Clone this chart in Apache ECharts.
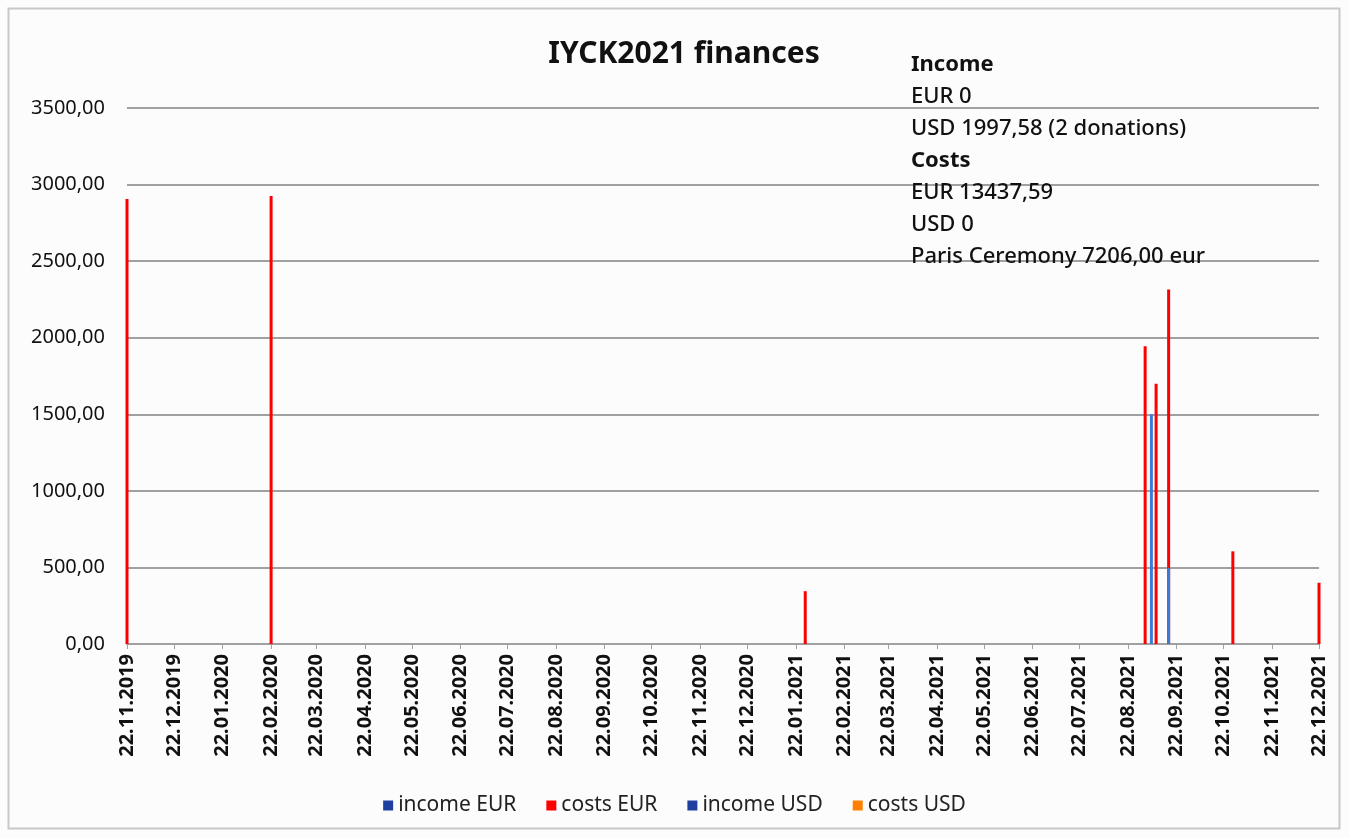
<!DOCTYPE html>
<html>
<head>
<meta charset="utf-8">
<title>IYCK2021 finances</title>
<script src="https://cdn.jsdelivr.net/npm/echarts@6/dist/echarts.min.js"></script>
<style>
  html, body { margin: 0; padding: 0; background: #ffffff; }
  #chart { width: 1349px; height: 838px; }
</style>
</head>
<body>
<div id="chart"></div>
<script>
// dates are dd.mm.yyyy, as on the axis
const tickLabels = [
  '22.11.2019', '22.12.2019', '22.01.2020', '22.02.2020', '22.03.2020',
  '22.04.2020', '22.05.2020', '22.06.2020', '22.07.2020', '22.08.2020',
  '22.09.2020', '22.10.2020', '22.11.2020', '22.12.2020', '22.01.2021',
  '22.02.2021', '22.03.2021', '22.04.2021', '22.05.2021', '22.06.2021',
  '22.07.2021', '22.08.2021', '22.09.2021', '22.10.2021', '22.11.2021',
  '22.12.2021'
]

const incomeEurDates = []
const incomeEurValues = []

const costsEurDates = ['22.11.2019', '22.02.2020', '28.01.2021', '02.09.2021', '09.09.2021', '17.09.2021', '28.10.2021', '22.12.2021']
const costsEurValues = [2905, 2925, 345, 1945, 1700, 2315, 605, 400]

const incomeUsdDates = ['06.09.2021', '17.09.2021']
const incomeUsdValues = [1500, 497.58]

const costsUsdDates = []
const costsUsdValues = []

// x axis works in days since the first tick
const DAY = 86400000
const toTime = (s) => {
  const [d, m, y] = s.split('.').map(Number)
  return Date.UTC(y, m - 1, d)
}
const t0 = toTime(tickLabels[0])
const toDay = (s) => Math.round((toTime(s) - t0) / DAY)
const pairs = (dates, values) => dates.map((d, i) => [toDay(d), values[i]])
const tickDays = tickLabels.map(toDay)
const labelOf = {}
tickLabels.forEach((s) => { labelOf[toDay(s)] = s })

const chart = echarts.init(document.getElementById('chart'))

const font = '"Noto Sans", "Open Sans", sans-serif'

const barSeries = (name, data, color) => ({
  name: name,
  type: 'bar',
  data: data,
  barWidth: 3,
  barGap: '-100%',
  itemStyle: { color: color },
  animation: false
})

const option = {
  backgroundColor: '#fcfcfc',
  textStyle: { fontFamily: font },
  title: [
    {
      text: 'IYCK2021 finances',
      left: 679,
      top: 34,
      textAlign: 'center',
      textStyle: { fontSize: 30, fontWeight: 'bold', color: '#111', fontFamily: font }
    },
    {
      text: [
        '{b|Income}',
        '{n|EUR 0}',
        '{n|USD 1997,58 (2 donations)}',
        '{b|Costs}',
        '{n|EUR 13437,59}',
        '{n|USD 0}',
        '{n|Paris Ceremony 7206,00 eur}'
      ].join('\n'),
      left: 906,
      top: 44,
      textStyle: {
        rich: {
          b: { fontSize: 22, fontWeight: 'bold', color: '#111', lineHeight: 32, fontFamily: font },
          n: { fontSize: 22, fontWeight: 500, color: '#111', lineHeight: 32, fontFamily: font }
        }
      }
    }
  ],
  graphic: [
    {
      type: 'rect',
      shape: { x: 8.5, y: 8.5, width: 1331, height: 820 },
      style: { fill: 'none', stroke: '#c8c8c8', lineWidth: 2 },
      silent: true
    }
  ],
  legend: {
    bottom: 17,
    left: 'center',
    itemWidth: 10,
    itemHeight: 10,
    itemGap: 30,
    icon: 'rect',
    textStyle: { fontSize: 21, color: '#222', fontFamily: font },
    data: [
      { name: 'income EUR', itemStyle: { color: '#1f3fa0' } },
      { name: 'costs EUR', itemStyle: { color: '#ff0000' } },
      { name: 'income USD', itemStyle: { color: '#1f3fa0' } },
      { name: 'costs USD', itemStyle: { color: '#ff8000' } }
    ]
  },
  grid: {
    left: 127,
    right: 30,
    top: 108,
    bottom: 194
  },
  xAxis: {
    type: 'value',
    min: tickDays[0],
    max: tickDays[tickDays.length - 1],
    axisLine: { show: true, onZero: false, lineStyle: { color: '#a0a0a0', width: 2 } },
    axisTick: {
      show: true,
      customValues: tickDays,
      length: 5,
      lineStyle: { color: '#a0a0a0', width: 1 }
    },
    axisLabel: {
      customValues: tickDays,
      rotate: 90,
      formatter: (v) => labelOf[v] || '',
      fontSize: 20,
      fontWeight: 'bold',
      color: '#111',
      margin: 10,
      fontFamily: font
    },
    splitLine: { show: false }
  },
  yAxis: {
    type: 'value',
    min: 0,
    max: 3500,
    interval: 500,
    axisLine: { show: false },
    axisTick: { show: false },
    axisLabel: {
      formatter: (v) => v.toFixed(2).replace('.', ','),
      fontSize: 20,
      color: '#111',
      margin: 22,
      fontFamily: font
    },
    splitLine: { lineStyle: { color: '#a0a0a0', width: 2 } }
  },
  series: [
    barSeries('income EUR', pairs(incomeEurDates, incomeEurValues), '#1f3fa0'),
    barSeries('costs EUR', pairs(costsEurDates, costsEurValues), '#ff0000'),
    barSeries('income USD', pairs(incomeUsdDates, incomeUsdValues), '#3a7bd5'),
    barSeries('costs USD', pairs(costsUsdDates, costsUsdValues), '#ff8000')
  ]
}

chart.setOption(option)

window.addEventListener('resize', () => {
  chart.resize()
})
</script>
</body>
</html>
